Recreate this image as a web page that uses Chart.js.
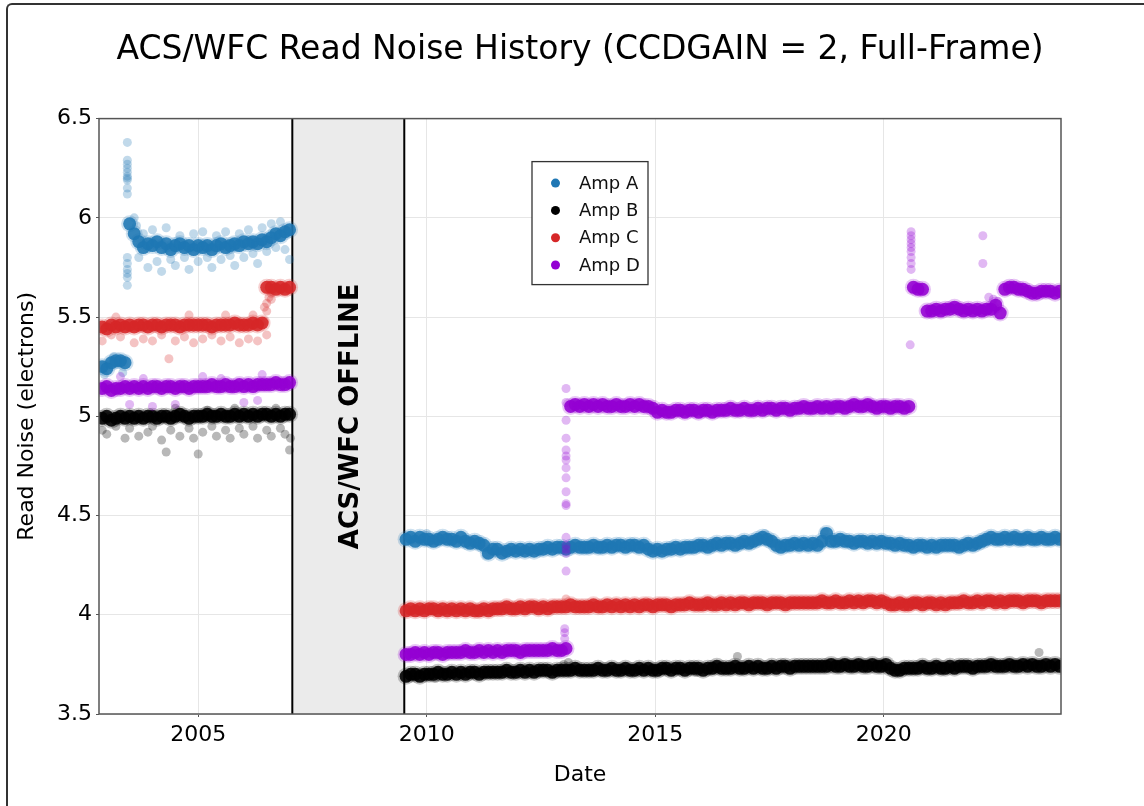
<!DOCTYPE html>
<html>
<head>
<meta charset="utf-8">
<title>ACS/WFC Read Noise History</title>
<script src="https://cdn.jsdelivr.net/npm/chart.js@4.4.0/dist/chart.umd.min.js"></script>
<style>
  html, body { margin: 0; padding: 0; background: #fff; overflow: hidden; }
  #wrap { position: relative; width: 1144px; height: 806px; }
  #frame {
    position: absolute; left: 6px; top: 3px; width: 1200px; height: 900px;
    border-left: 2px solid #333; border-top: 2px solid #333;
    border-top-left-radius: 6px; pointer-events: none;
  }
</style>
</head>
<body>
<div id="wrap">
  <canvas id="myChart" width="1144" height="806"></canvas>
  <div id="frame"></div>
</div>
<script>
// Dates (decimal years) of the sampled points before the 2007 failure

const earlyDates = [
  2002.9, 2003.0, 2003.1, 2003.2, 2003.3, 2003.4, 2003.5, 2003.6, 2003.7, 2003.8, 2003.9, 2004.0,
  2004.1, 2004.2, 2004.3, 2004.4, 2004.5, 2004.6, 2004.7, 2004.8, 2004.9, 2005.0,
  2005.1, 2005.2, 2005.3, 2005.4, 2005.5, 2005.6, 2005.7, 2005.8, 2005.9, 2006.0,
  2006.1, 2006.2, 2006.3, 2006.4, 2006.5, 2006.6, 2006.7, 2006.8, 2006.9, 2007.0
];

// Dates after ACS/WFC came back (SM4, 2009)

const lateDates = [
  2009.55, 2009.65, 2009.75, 2009.85, 2009.95, 2010.05, 2010.15, 2010.25, 2010.35, 2010.45,
  2010.55, 2010.65, 2010.75, 2010.85, 2010.95, 2011.05, 2011.15, 2011.25, 2011.35, 2011.45,
  2011.55, 2011.65, 2011.75, 2011.85, 2011.95, 2012.05, 2012.15, 2012.25, 2012.35, 2012.45,
  2012.55, 2012.65, 2012.75, 2012.85, 2012.95, 2013.05, 2013.15, 2013.25, 2013.35, 2013.45,
  2013.55, 2013.65, 2013.75, 2013.85, 2013.95, 2014.05, 2014.15, 2014.25, 2014.35, 2014.45,
  2014.55, 2014.65, 2014.75, 2014.85, 2014.95, 2015.05, 2015.15, 2015.25, 2015.35, 2015.45,
  2015.55, 2015.65, 2015.75, 2015.85, 2015.95, 2016.05, 2016.15, 2016.25, 2016.35, 2016.45,
  2016.55, 2016.65, 2016.75, 2016.85, 2016.95, 2017.05, 2017.15, 2017.25, 2017.35, 2017.45,
  2017.55, 2017.65, 2017.75, 2017.85, 2017.95, 2018.05, 2018.15, 2018.25, 2018.35, 2018.45,
  2018.55, 2018.65, 2018.75, 2018.85, 2018.95, 2019.05, 2019.15, 2019.25, 2019.35, 2019.45,
  2019.55, 2019.65, 2019.75, 2019.85, 2019.95, 2020.05, 2020.15, 2020.25, 2020.35, 2020.45,
  2020.55, 2020.65, 2020.75, 2020.85, 2020.95, 2021.05, 2021.15, 2021.25, 2021.35, 2021.45,
  2021.55, 2021.65, 2021.75, 2021.85, 2021.95, 2022.05, 2022.15, 2022.25, 2022.35, 2022.45,
  2022.55, 2022.65, 2022.75, 2022.85, 2022.95, 2023.05, 2023.15, 2023.25, 2023.35, 2023.45,
  2023.55, 2023.65, 2023.75, 2023.85
];

// Read noise (electrons) of each amplifier, one value per date above

const ampAEarly = [
  5.25, 5.24, 5.27, 5.28, 5.28, 5.27, 5.97, 5.92, 5.88, 5.85, 5.87, 5.86,
  5.88, 5.85, 5.87, 5.84, 5.86, 5.87, 5.85, 5.86, 5.84, 5.86,
  5.85, 5.86, 5.84, 5.86, 5.87, 5.85, 5.86, 5.87, 5.86, 5.88,
  5.87, 5.88, 5.87, 5.89, 5.88, 5.90, 5.92, 5.91, 5.93, 5.94
];
const ampBEarly = [
  4.99, 5.00, 4.98, 4.99, 5.00, 4.99, 5.00, 4.99, 5.00, 4.99, 5.00, 5.00,
  4.99, 5.00, 5.00, 4.99, 5.00, 5.01, 5.00, 4.99, 5.00, 5.00,
  5.00, 5.01, 5.00, 5.00, 5.01, 5.00, 5.00, 5.01, 5.00, 5.01,
  5.00, 5.01, 5.00, 5.01, 5.01, 5.00, 5.01, 5.00, 5.01, 5.01
];
const ampCEarly = [
  5.45, 5.44, 5.46, 5.45, 5.46, 5.45, 5.46, 5.45, 5.46, 5.46, 5.45, 5.46,
  5.46, 5.45, 5.46, 5.46, 5.46, 5.45, 5.46, 5.46, 5.46, 5.46,
  5.46, 5.46, 5.45, 5.46, 5.46, 5.46, 5.46, 5.47, 5.46, 5.46,
  5.46, 5.47, 5.46, 5.47, 5.65, 5.65, 5.64, 5.65, 5.64, 5.65
];
const ampDEarly = [
  5.14, 5.15, 5.13, 5.14, 5.14, 5.15, 5.14, 5.15, 5.14, 5.15, 5.14, 5.15,
  5.15, 5.14, 5.15, 5.15, 5.14, 5.15, 5.15, 5.14, 5.15, 5.15,
  5.15, 5.15, 5.16, 5.15, 5.15, 5.16, 5.15, 5.15, 5.16, 5.15,
  5.16, 5.15, 5.16, 5.16, 5.16, 5.16, 5.17, 5.16, 5.16, 5.17
];

const ampALate = [
  4.38, 4.39, 4.37, 4.39, 4.38, 4.38, 4.37, 4.38, 4.39, 4.38,
  4.38, 4.37, 4.39, 4.37, 4.36, 4.37, 4.36, 4.35, 4.31, 4.33,
  4.33, 4.31, 4.32, 4.33, 4.32, 4.33, 4.32, 4.33, 4.32, 4.33,
  4.33, 4.34, 4.33, 4.34, 4.34, 4.33, 4.34, 4.35, 4.34, 4.34,
  4.34, 4.35, 4.34, 4.34, 4.35, 4.34, 4.35, 4.35, 4.34, 4.35,
  4.35, 4.34, 4.35, 4.33, 4.32, 4.33, 4.32, 4.33, 4.33, 4.34,
  4.33, 4.34, 4.34, 4.34, 4.35, 4.35, 4.34, 4.35, 4.36, 4.35,
  4.36, 4.36, 4.35, 4.36, 4.37, 4.36, 4.37, 4.38, 4.39, 4.38,
  4.37, 4.35, 4.34, 4.35, 4.35, 4.36, 4.35, 4.36, 4.35, 4.36,
  4.35, 4.37, 4.41, 4.37, 4.37, 4.38, 4.37, 4.37, 4.36, 4.37,
  4.37, 4.36, 4.37, 4.36, 4.37, 4.36, 4.36, 4.35, 4.36, 4.35,
  4.35, 4.34, 4.35, 4.35, 4.34, 4.35, 4.34, 4.35, 4.35, 4.35,
  4.35, 4.34, 4.35, 4.36, 4.35, 4.36, 4.37, 4.38, 4.39, 4.38,
  4.38, 4.39, 4.38, 4.39, 4.38, 4.38, 4.39, 4.38, 4.38, 4.39,
  4.38, 4.38, 4.39, 4.38
];
const ampBLate = [
  3.69, 3.70, 3.70, 3.69, 3.70, 3.70, 3.70, 3.71, 3.70, 3.70,
  3.71, 3.70, 3.71, 3.70, 3.71, 3.71, 3.70, 3.71, 3.71, 3.71,
  3.71, 3.71, 3.72, 3.71, 3.71, 3.72, 3.71, 3.72, 3.71, 3.72,
  3.72, 3.72, 3.71, 3.72, 3.72, 3.72, 3.72, 3.73, 3.72, 3.72,
  3.72, 3.72, 3.73, 3.72, 3.72, 3.73, 3.72, 3.72, 3.73, 3.72,
  3.72, 3.73, 3.72, 3.73, 3.72, 3.72, 3.73, 3.73, 3.72, 3.73,
  3.73, 3.72, 3.73, 3.73, 3.73, 3.72, 3.73, 3.73, 3.74, 3.73,
  3.73, 3.73, 3.74, 3.73, 3.73, 3.74, 3.73, 3.74, 3.73, 3.73,
  3.74, 3.73, 3.74, 3.74, 3.73, 3.74, 3.74, 3.74, 3.74, 3.74,
  3.74, 3.74, 3.74, 3.75, 3.74, 3.74, 3.75, 3.74, 3.74, 3.75,
  3.74, 3.74, 3.75, 3.74, 3.74, 3.75, 3.73, 3.72, 3.72, 3.73,
  3.73, 3.73, 3.73, 3.74, 3.73, 3.73, 3.74, 3.73, 3.73, 3.74,
  3.73, 3.74, 3.74, 3.74, 3.73, 3.74, 3.74, 3.74, 3.75, 3.74,
  3.74, 3.74, 3.75, 3.74, 3.74, 3.75, 3.74, 3.75, 3.74, 3.74,
  3.75, 3.74, 3.75, 3.74
];
const ampCLate = [
  4.02, 4.03, 4.02, 4.03, 4.02, 4.03, 4.03, 4.02, 4.03, 4.02,
  4.03, 4.02, 4.03, 4.02, 4.03, 4.02, 4.02, 4.03, 4.02, 4.03,
  4.03, 4.03, 4.04, 4.03, 4.03, 4.04, 4.03, 4.04, 4.04, 4.03,
  4.04, 4.03, 4.04, 4.04, 4.04, 4.04, 4.05, 4.04, 4.04, 4.04,
  4.04, 4.05, 4.04, 4.04, 4.05, 4.04, 4.05, 4.04, 4.05, 4.04,
  4.05, 4.04, 4.05, 4.05, 4.04, 4.05, 4.05, 4.05, 4.04, 4.05,
  4.05, 4.05, 4.06, 4.05, 4.05, 4.05, 4.06, 4.05, 4.05, 4.06,
  4.05, 4.06, 4.05, 4.06, 4.06, 4.05, 4.06, 4.06, 4.06, 4.05,
  4.06, 4.06, 4.06, 4.05, 4.06, 4.06, 4.06, 4.06, 4.06, 4.06,
  4.06, 4.07, 4.06, 4.06, 4.07, 4.06, 4.06, 4.07, 4.06, 4.07,
  4.06, 4.07, 4.07, 4.06, 4.07, 4.06, 4.05, 4.05, 4.06, 4.05,
  4.05, 4.06, 4.06, 4.05, 4.06, 4.06, 4.05, 4.06, 4.05, 4.06,
  4.06, 4.06, 4.07, 4.06, 4.06, 4.07, 4.06, 4.07, 4.07, 4.06,
  4.07, 4.06, 4.07, 4.07, 4.07, 4.06, 4.07, 4.07, 4.07, 4.06,
  4.07, 4.07, 4.07, 4.07
];
const ampDLate = [
  3.80, 3.80, 3.81, 3.80, 3.81, 3.80, 3.81, 3.81, 3.80, 3.81,
  3.81, 3.81, 3.81, 3.82, 3.81, 3.81, 3.82, 3.81, 3.82, 3.81,
  3.82, 3.81, 3.82, 3.82, 3.82, 3.81, 3.82, 3.82, 3.82, 3.82,
  3.82, 3.82, 3.83, 3.82, 3.82, 3.83, 5.05, 5.06, 5.05, 5.06,
  5.05, 5.06, 5.05, 5.06, 5.05, 5.05, 5.06, 5.05, 5.05, 5.06,
  5.05, 5.06, 5.05, 5.05, 5.04, 5.02, 5.03, 5.02, 5.02, 5.03,
  5.03, 5.02, 5.03, 5.03, 5.02, 5.03, 5.03, 5.02, 5.03, 5.03,
  5.03, 5.04, 5.03, 5.03, 5.04, 5.03, 5.03, 5.04, 5.03, 5.04,
  5.04, 5.03, 5.04, 5.04, 5.03, 5.04, 5.04, 5.05, 5.04, 5.04,
  5.05, 5.04, 5.05, 5.04, 5.05, 5.05, 5.04, 5.05, 5.06, 5.05,
  5.05, 5.06, 5.05, 5.04, 5.05, 5.05, 5.04, 5.05, 5.05, 5.04,
  5.05, 5.65, 5.64, 5.64, 5.53, 5.53, 5.54, 5.53, 5.54, 5.54,
  5.55, 5.54, 5.53, 5.54, 5.53, 5.54, 5.53, 5.54, 5.54, 5.56,
  5.52, 5.64, 5.65, 5.65, 5.64, 5.64, 5.63, 5.62, 5.62, 5.63,
  5.63, 5.63, 5.62, 5.63
];

// Scattered single exposures (outliers, anneal spikes), drawn fainter

const ampAOutDates = [
  2003.45, 2003.45, 2003.45, 2003.45, 2003.45, 2003.45, 2003.45, 2003.45,
  2003.45, 2003.45, 2003.45, 2003.45, 2003.45, 2003.45, 2003.45, 2003.45,
  2002.95, 2003.15, 2003.35,
  2003.6, 2003.65, 2003.7, 2003.8, 2003.9, 2004.0, 2004.1, 2004.2, 2004.3, 2004.4,
  2004.5, 2004.6, 2004.7, 2004.8, 2004.9, 2005.0, 2005.1, 2005.2, 2005.3, 2005.4,
  2005.5, 2005.6, 2005.7, 2005.8, 2005.9, 2006.0, 2006.1, 2006.2, 2006.3, 2006.4,
  2006.5, 2006.6, 2006.7, 2006.8, 2006.9, 2007.0,
  2010.0, 2011.3, 2017.4, 2018.7, 2022.9
];
const ampAOutValues = [
  6.38, 6.29, 6.27, 6.25, 6.23, 6.21, 6.20, 6.19,
  6.15, 6.12, 5.80, 5.77, 5.74, 5.72, 5.70, 5.66,
  5.21, 5.30, 5.22,
  6.00, 5.96, 5.80, 5.92, 5.75, 5.94, 5.78, 5.73, 5.95, 5.79,
  5.76, 5.91, 5.80, 5.74, 5.92, 5.78, 5.93, 5.80, 5.75, 5.91,
  5.79, 5.93, 5.81, 5.76, 5.92, 5.80, 5.94, 5.82, 5.77, 5.95,
  5.83, 5.97, 5.85, 5.98, 5.84, 5.79,
  4.41, 4.30, 4.41, 4.42, 4.41
];
const ampBOutDates = [
  2002.9, 2003.0, 2003.2, 2003.4, 2003.5, 2003.7, 2003.9, 2004.0, 2004.2, 2004.3,
  2004.4, 2004.6, 2004.8, 2004.9, 2005.0, 2005.1, 2005.3, 2005.4, 2005.6, 2005.7,
  2005.9, 2006.0, 2006.2, 2006.3, 2006.5, 2006.6, 2006.8, 2006.9, 2007.0, 2007.02,
  2004.5, 2005.2, 2005.8, 2006.7,
  2010.2, 2013.0, 2013.1, 2015.9, 2016.8, 2023.4
];
const ampBOutValues = [
  4.93, 4.91, 4.95, 4.89, 4.94, 4.90, 4.92, 4.95, 4.88, 4.82,
  4.93, 4.90, 4.94, 4.89, 4.81, 4.92, 4.95, 4.90, 4.93, 4.89,
  4.94, 4.91, 4.95, 4.89, 4.93, 4.90, 4.94, 4.91, 4.83, 4.89,
  5.04, 5.03, 5.04, 5.04,
  3.68, 3.75, 3.76, 3.71, 3.79, 3.81
];
const ampCOutDates = [
  2002.9, 2003.1, 2003.3, 2003.6, 2003.8, 2004.0, 2004.2, 2004.36, 2004.5, 2004.7,
  2004.9, 2005.1, 2005.3, 2005.5, 2005.7, 2005.9, 2006.1, 2006.3, 2006.5,
  2003.2, 2004.8, 2005.6, 2006.2,
  2006.45, 2006.45, 2006.5, 2006.5, 2006.55, 2006.6, 2006.6,
  2013.05
];
const ampCOutValues = [
  5.38, 5.41, 5.40, 5.37, 5.39, 5.38, 5.41, 5.29, 5.38, 5.40,
  5.37, 5.39, 5.41, 5.38, 5.40, 5.37, 5.39, 5.38, 5.41,
  5.50, 5.51, 5.51, 5.51,
  5.48, 5.55, 5.53, 5.57, 5.60, 5.59, 5.62,
  4.08
];
const ampDOutDates = [
  2003.3, 2003.5, 2003.8, 2004.0, 2004.5, 2005.1, 2005.5, 2006.0, 2006.3, 2006.4,
  2013.05, 2013.05, 2013.05, 2013.05, 2013.05, 2013.05, 2013.05, 2013.05, 2013.05, 2013.05,
  2013.05, 2013.05, 2013.05, 2013.05, 2013.05, 2013.05, 2013.05, 2013.02, 2013.02, 2013.02,
  2020.6, 2020.6, 2020.6, 2020.6, 2020.6, 2020.6, 2020.6, 2020.6, 2020.6, 2020.58,
  2022.17, 2022.17, 2022.3, 2022.4, 2022.5
];
const ampDOutValues = [
  5.20, 5.06, 5.19, 5.05, 5.06, 5.20, 5.19, 5.07, 5.08, 5.21,
  5.14, 5.07, 4.98, 4.89, 4.83, 4.80, 4.78, 4.74, 4.69, 4.62,
  4.56, 4.55, 4.39, 4.35, 4.33, 4.31, 4.22, 3.93, 3.91, 3.88,
  5.93, 5.91, 5.89, 5.87, 5.85, 5.83, 5.80, 5.77, 5.74, 5.36,
  5.91, 5.77, 5.60, 5.59, 5.58
];

// Axes

const xTicks = [2005, 2010, 2015, 2020];
const yTicks = [3.5, 4, 4.5, 5, 5.5, 6, 6.5];
const xMin = 2002.83;
const xMax = 2023.88;

// ACS/WFC was offline from the January 2007 failure until Servicing Mission 4
const offlineStart = 2007.06;
const offlineEnd = 2009.51;
const offlineLabel = "ACS/WFC OFFLINE";

const amps = [
  {label: "Amp A", rgb: "31,119,180", early: ampAEarly, late: ampALate, outDates: ampAOutDates, outValues: ampAOutValues, order: 7},
  {label: "Amp B", rgb: "0,0,0", early: ampBEarly, late: ampBLate, outDates: ampBOutDates, outValues: ampBOutValues, order: 5},
  {label: "Amp C", rgb: "214,39,40", early: ampCEarly, late: ampCLate, outDates: ampCOutDates, outValues: ampCOutValues, order: 3},
  {label: "Amp D", rgb: "148,0,211", early: ampDEarly, late: ampDLate, outDates: ampDOutDates, outValues: ampDOutValues, order: 1}
];

const FONT = "'DejaVu Sans', Verdana, sans-serif";
Chart.defaults.font.family = FONT;
Chart.defaults.color = "#000";

function toPoints(dates, values) {
  return dates.map((d, i) => ({x: d, y: values[i]}));
}

// Build the datasets: a dense band (with a soft edge) and fainter outliers per amp

let datasets = [];

for (let amp of amps) {
  let band = toPoints(earlyDates, amp.early).concat(toPoints(lateDates, amp.late));
  datasets.push({
    label: amp.label,
    data: band,
    pointBackgroundColor: `rgba(${amp.rgb},0.88)`,
    pointBorderWidth: 0,
    pointRadius: 6.5,
    order: amp.order
  });
  datasets.push({
    label: amp.label + " edge",
    data: band,
    pointBackgroundColor: `rgba(${amp.rgb},0.22)`,
    pointBorderWidth: 0,
    pointRadius: 8.5,
    order: amp.order + 0.3
  });
  datasets.push({
    label: amp.label + " outliers",
    data: toPoints(amp.outDates, amp.outValues),
    pointBackgroundColor: `rgba(${amp.rgb},0.28)`,
    pointBorderWidth: 0,
    pointRadius: 4.5,
    order: amp.order + 0.6
  });
}

// Offline band, plot frame and the legend box

const decorations = {
  id: "decorations",
  beforeDatasetsDraw(chart) {
    const {ctx, chartArea, scales} = chart;
    const x0 = scales.x.getPixelForValue(offlineStart);
    const x1 = scales.x.getPixelForValue(offlineEnd);
    ctx.save();
    ctx.fillStyle = "#ebebeb";
    ctx.fillRect(x0, chartArea.top, x1 - x0, chartArea.bottom - chartArea.top);
    ctx.strokeStyle = "#000";
    ctx.lineWidth = 2;
    for (let x of [x0, x1]) {
      ctx.beginPath();
      ctx.moveTo(x, chartArea.top);
      ctx.lineTo(x, chartArea.bottom);
      ctx.stroke();
    }
    ctx.translate((x0 + x1) / 2 + 3, (chartArea.top + chartArea.bottom) / 2);
    ctx.rotate(-Math.PI / 2);
    ctx.font = "bold 26px " + FONT;
    ctx.textAlign = "center";
    ctx.textBaseline = "middle";
    ctx.fillStyle = "#000";
    ctx.fillText(offlineLabel, 0, 0);
    ctx.restore();
  },
  afterDatasetsDraw(chart) {
    const {ctx, chartArea} = chart;
    ctx.save();
    ctx.strokeStyle = "#555";
    ctx.lineWidth = 1.5;
    ctx.strokeRect(chartArea.left, chartArea.top, chartArea.right - chartArea.left, chartArea.bottom - chartArea.top);

    // legend
    const left = chartArea.left + 433;
    const top = chartArea.top + 43;
    ctx.fillStyle = "#fff";
    ctx.fillRect(left, top, 116, 123);
    ctx.strokeStyle = "#333";
    ctx.lineWidth = 1.3;
    ctx.strokeRect(left, top, 116, 123);
    ctx.font = "18px " + FONT;
    ctx.textBaseline = "middle";
    ctx.textAlign = "left";
    amps.forEach((amp, i) => {
      const y = top + 21.5 + i * 27.3;
      ctx.fillStyle = `rgb(${amp.rgb})`;
      ctx.beginPath();
      ctx.arc(left + 23.5, y, 4.5, 0, Math.PI * 2);
      ctx.fill();
      ctx.fillStyle = "#111";
      ctx.fillText(amp.label, left + 47, y + 1);
    });
    ctx.restore();
  }
};

new Chart("myChart", {
  type: "scatter",
  data: {datasets: datasets},
  options: {
    responsive: false,
    animation: false,
    events: [],
    layout: {padding: {left: 6, right: 83, top: 10, bottom: 10}},
    plugins: {
      legend: {display: false},
      tooltip: {enabled: false},
      title: {
        display: true,
        fullSize: false,
        text: "ACS/WFC Read Noise History (CCDGAIN = 2, Full-Frame)",
        font: {size: 33, weight: "normal"},
        color: "#000",
        padding: {top: 21, bottom: 48}
      }
    },
    scales: {
      x: {
        type: "linear",
        min: xMin,
        max: xMax,
        afterBuildTicks: (scale) => { scale.ticks = xTicks.map(v => ({value: v})); },
        afterFit: (scale) => { scale.height = 82; },
        ticks: {
          callback: (v) => String(v),
          font: {size: 22},
          color: "#000",
          padding: 5,
          maxRotation: 0
        },
        grid: {color: "#e6e6e6", lineWidth: 1, tickLength: 3, tickColor: "#555"},
        border: {display: false},
        title: {display: true, text: "Date", font: {size: 22}, color: "#000", padding: {top: 4, bottom: 8}}
      },
      y: {
        min: 3.5,
        max: 6.5,
        afterBuildTicks: (scale) => { scale.ticks = yTicks.map(v => ({value: v})); },
        afterFit: (scale) => { scale.width = 93; },
        ticks: {
          callback: (v) => String(v),
          font: {size: 22},
          color: "#000",
          padding: 4
        },
        grid: {color: "#e6e6e6", lineWidth: 1, tickLength: 3, tickColor: "#555"},
        border: {display: false},
        title: {display: true, text: "Read Noise (electrons)", font: {size: 22}, color: "#000", padding: {top: 8, bottom: 4}}
      }
    }
  },
  plugins: [decorations]
});
</script>
</body>
</html>
